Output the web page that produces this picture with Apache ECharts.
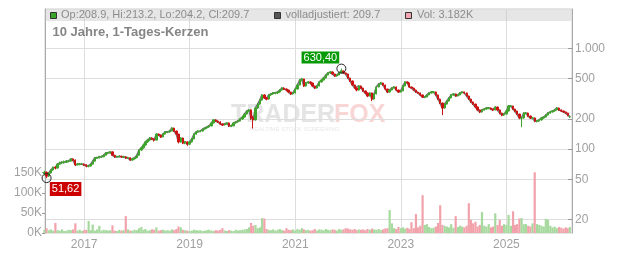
<!DOCTYPE html>
<html><head><meta charset="utf-8">
<script src="https://cdn.jsdelivr.net/npm/echarts@6/dist/echarts.min.js"></script>
<style>html,body{margin:0;padding:0;background:#fff}#c{width:632px;height:253px}</style>
</head><body><div id="c"></div>
<script>
const dates = [
'2016-04-01','2016-04-16','2016-05-01','2016-05-16','2016-06-01','2016-06-16','2016-07-01','2016-07-16','2016-08-01','2016-08-16','2016-09-01','2016-09-16','2016-10-01','2016-10-16','2016-11-01','2016-11-16','2016-12-01','2016-12-16',
'2017-01-01','2017-01-16','2017-02-01','2017-02-16','2017-03-01','2017-03-16','2017-04-01','2017-04-16','2017-05-01','2017-05-16','2017-06-01','2017-06-16','2017-07-01','2017-07-16','2017-08-01','2017-08-16','2017-09-01','2017-09-16','2017-10-01','2017-10-16','2017-11-01','2017-11-16','2017-12-01','2017-12-16',
'2018-01-01','2018-01-16','2018-02-01','2018-02-16','2018-03-01','2018-03-16','2018-04-01','2018-04-16','2018-05-01','2018-05-16','2018-06-01','2018-06-16','2018-07-01','2018-07-16','2018-08-01','2018-08-16','2018-09-01','2018-09-16','2018-10-01','2018-10-16','2018-11-01','2018-11-16','2018-12-01','2018-12-16',
'2019-01-01','2019-01-16','2019-02-01','2019-02-16','2019-03-01','2019-03-16','2019-04-01','2019-04-16','2019-05-01','2019-05-16','2019-06-01','2019-06-16','2019-07-01','2019-07-16','2019-08-01','2019-08-16','2019-09-01','2019-09-16','2019-10-01','2019-10-16','2019-11-01','2019-11-16','2019-12-01','2019-12-16',
'2020-01-01','2020-01-16','2020-02-01','2020-02-16','2020-03-01','2020-03-16','2020-04-01','2020-04-16','2020-05-01','2020-05-16','2020-06-01','2020-06-16','2020-07-01','2020-07-16','2020-08-01','2020-08-16','2020-09-01','2020-09-16','2020-10-01','2020-10-16','2020-11-01','2020-11-16','2020-12-01','2020-12-16',
'2021-01-01','2021-01-16','2021-02-01','2021-02-16','2021-03-01','2021-03-16','2021-04-01','2021-04-16','2021-05-01','2021-05-16','2021-06-01','2021-06-16','2021-07-01','2021-07-16','2021-08-01','2021-08-16','2021-09-01','2021-09-16','2021-10-01','2021-10-16','2021-11-01','2021-11-16','2021-12-01','2021-12-16',
'2022-01-01','2022-01-16','2022-02-01','2022-02-16','2022-03-01','2022-03-16','2022-04-01','2022-04-16','2022-05-01','2022-05-16','2022-06-01','2022-06-16','2022-07-01','2022-07-16','2022-08-01','2022-08-16','2022-09-01','2022-09-16','2022-10-01','2022-10-16','2022-11-01','2022-11-16','2022-12-01','2022-12-16',
'2023-01-01','2023-01-16','2023-02-01','2023-02-16','2023-03-01','2023-03-16','2023-04-01','2023-04-16','2023-05-01','2023-05-16','2023-06-01','2023-06-16','2023-07-01','2023-07-16','2023-08-01','2023-08-16','2023-09-01','2023-09-16','2023-10-01','2023-10-16','2023-11-01','2023-11-16','2023-12-01','2023-12-16',
'2024-01-01','2024-01-16','2024-02-01','2024-02-16','2024-03-01','2024-03-16','2024-04-01','2024-04-16','2024-05-01','2024-05-16','2024-06-01','2024-06-16','2024-07-01','2024-07-16','2024-08-01','2024-08-16','2024-09-01','2024-09-16','2024-10-01','2024-10-16','2024-11-01','2024-11-16','2024-12-01','2024-12-16',
'2025-01-01','2025-01-16','2025-02-01','2025-02-16','2025-03-01','2025-03-16','2025-04-01','2025-04-16','2025-05-01','2025-05-16','2025-06-01','2025-06-16','2025-07-01','2025-07-16','2025-08-01','2025-08-16','2025-09-01','2025-09-16','2025-10-01','2025-10-16','2025-11-01','2025-11-16','2025-12-01','2025-12-16',
'2026-01-01','2026-01-16','2026-02-01','2026-02-16','2026-03-01','2026-03-16'
];
const opens = [
57,59,54,58,62,66,65,71,73,74, 74,76,76,80,78,70,71,71,71,70,
68,68,71,76,82,82,84,84,87,92, 92,94,87,84,84,85,84,84,82,82,
78,80,82,87,98,103,110,118,123,129, 126,123,141,138,132,141,148,148,151,162,
151,141,118,129,115,118,112,118,126,141, 148,151,151,158,162,166,170,182,195,190,
186,178,174,178,182,170,170,182,186,190, 199,208,223,239,245,204,195,256,280,307,
345,322,314,345,353,361,361,369,386,404, 395,386,369,353,361,395,433,485,497,423,
453,464,453,423,404,423,464,485,508,544, 570,583,557,532,544,570,596,570,557,508,
475,433,404,386,423,404,378,361,337,361, 314,353,414,443,453,433,395,369,386,404,
414,386,369,378,423,464,453,414,404,386, 369,361,345,329,329,345,361,369,369,345,
314,287,256,280,300,322,345,353,337,345, 361,369,361,337,314,294,280,262,245,234,
245,250,256,256,250,245,262,245,228,218, 223,239,268,268,250,239,223,204,204,228,
228,213,204,204,190,190,195,204,208,218, 228,234,239,245,256,245,239,234,228,208.9
];
const closes = [
59,54,58,62,66,65,71,73,74,74, 76,76,80,78,70,71,71,71,70,68,
68,71,76,82,82,84,84,87,92,92, 94,87,84,84,85,84,84,82,82,78,
80,82,87,98,103,110,118,123,129,126, 123,141,138,132,141,148,148,151,162,151,
141,118,129,115,118,112,118,126,141,148, 151,151,158,162,166,170,182,195,190,186,
178,174,178,182,170,170,182,186,190,199, 208,223,239,245,204,195,256,280,307,345,
322,314,345,353,361,361,369,386,404,395, 386,369,353,361,395,433,485,497,423,453,
464,453,423,404,423,464,485,508,544,570, 583,557,532,544,570,596,570,557,508,475,
433,404,386,423,404,378,361,337,361,314, 353,414,443,453,433,395,369,386,404,414,
386,369,378,423,464,453,414,404,386,369, 361,345,329,329,345,361,369,369,345,314,
287,256,280,300,322,345,353,337,345,361, 369,361,337,314,294,280,262,245,234,245,
250,256,256,250,245,262,245,228,218,223, 239,268,268,250,239,223,204,204,228,228,
213,204,204,190,190,195,204,208,218,228, 234,239,245,256,245,239,234,228,218,209.7
];
const lows = [
55,51.62,53,57,61,63,64,70,71,72, 73,74,75,76,68,69,69,70,68,66,
66,67,70,75,80,81,82,83,86,89, 90,86,82,82,83,82,82,80,80,77,
77,79,81,86,96,101,108,115,120,123, 119,122,135,129,131,139,144,146,150,148,
138,114,116,112,112,108,110,116,125,139, 146,147,149,155,159,163,168,180,186,182,
174,170,172,176,166,166,169,179,183,188, 196,205,220,234,195,160,192,250,275,302,
316,305,310,338,346,350,352,362,380,386, 375,360,345,348,356,390,428,475,415,418,
445,440,415,396,400,420,458,480,502,538, 560,548,520,525,540,565,560,545,500,465,
425,395,375,380,395,370,352,328,333,300, 310,350,410,438,425,388,360,365,382,400,
380,362,365,375,420,445,408,398,380,362, 355,338,322,320,326,342,356,360,340,308,
280,218,252,276,296,318,340,332,333,342, 356,355,332,308,288,274,256,238,228,230,
241,246,249,245,239,242,240,222,212,214, 220,236,260,245,233,218,198,165,200,222,
208,199,198,185,184,186,192,200,205,215, 225,230,235,242,240,234,229,223,212,204.2
];
const highs = [
61,60,59,63,67,68,72,75,76,77, 78,78,81,81,79,73,73,73,72,71,
70,72,77,83,84,86,86,89,93,94, 96,95,88,86,87,86,86,85,84,83,
81,83,88,99,105,112,120,126,132,131, 128,143,143,140,143,150,151,154,165,163,
153,142,131,130,121,120,120,128,143,150, 154,155,160,165,169,173,185,198,198,193,
189,180,181,185,184,174,184,189,193,202, 212,227,243,250,248,215,260,285,312,350,
350,330,350,360,368,370,378,394,412,410, 400,390,372,368,400,440,495,510,500,460,
472,470,458,428,430,470,492,516,552,580, 595,590,562,552,580,630.4,602,576,562,512,
480,438,410,430,428,408,382,365,366,364, 358,420,450,462,458,436,398,392,410,420,
418,390,384,428,470,470,456,418,408,390, 372,364,348,336,350,366,374,376,372,348,
318,290,285,305,326,350,358,356,350,366, 374,372,364,340,317,297,283,265,248,249,
255,260,262,259,253,266,264,248,230,226, 243,272,274,270,252,241,225,208,232,233,
231,216,208,206,194,198,207,212,222,232, 238,243,249,260,258,248,241,236,230,213.2
];
const volumesK = [
8,12,7,9,6,25,7,6,9,5, 6,8,7,9,24,6,8,5,7,8,
30,7,21,6,9,18,6,8,7,6, 7,19,6,5,8,6,7,42,9,6,
6,8,7,12,15,8,10,6,7,9, 8,14,6,7,8,6,7,6,9,7,
10,16,14,8,7,6,5,6,8,7, 6,7,5,6,7,8,6,5,7,6,
8,12,6,5,7,6,5,8,6,7, 8,9,10,14,25,18,20,12,14,37,
36,10,8,7,9,6,8,10,7,6, 12,8,7,9,6,10,8,12,9,7,
8,6,7,10,6,9,8,7,10,8, 7,9,8,6,10,8,9,12,11,9,
8,10,7,9,8,9,7,10,8,11, 9,8,10,7,9,11,12,57,24,12,
10,15,12,14,11,13,10,27,12,47, 14,18,94,20,22,15,12,13,16,25,
69,20,18,16,14,22,13,42,15,18, 16,14,18,74,33,24,28,16,20,52,
18,16,22,14,16,49,20,33,18,22, 20,45,18,54,20,22,36,37,22,22,
18,16,24,151,22,20,18,16,35,33, 18,14,16,12,15,13,11,14,12,15
];
const priceTicks = [20, 50, 100, 200, 500, 1000];
const priceTickLabels = ['20', '50', '100', '200', '500', '1.000'];
const volumeTicks = [0, 50000, 100000, 150000];
const volumeTickLabels = ['0K', '50K', '100K', '150K'];
const yearTicks = ['2017-01-01', '2019-01-01', '2021-01-01', '2023-01-01', '2025-01-01'];
const yearLabels = ['2017', '2019', '2021', '2023', '2025'];
const xRange = ['2016-04-05', '2026-03-31'];
const maxMark = { date: '2021-11-16', value: 630.40, text: '630,40' };
const minMark = { date: '2016-04-16', value: 51.62, text: '51,62' };
const headerOHLC = 'Op:208.9, Hi:213.2, Lo:204.2, Cl:209.7';
const headerAdj = 'volladjustiert: 209.7';
const headerVol = 'Vol: 3.182K';
const titleText = '10 Jahre, 1-Tages-Kerzen';

const ts = d => Date.parse(d + 'T00:00:00Z');
const yearTickTs = yearTicks.map(ts);
const candleData = dates.map((d, i) => [ts(d), opens[i], closes[i], lows[i], highs[i]]);
const adjData = dates.map((d, i) => [ts(d), closes[i]]);
const volData = dates.map((d, i) => ({
  value: [ts(d), volumesK[i] * 1000],
  itemStyle: { color: closes[i] >= opens[i] ? '#a6d99d' : '#f2a2ab' }
}));

const FONT = '"Liberation Sans", Arial, sans-serif';
const chart = echarts.init(document.getElementById('c'), null, { renderer: 'canvas' });
chart.setOption({
  animation: false,
  backgroundColor: '#fff',
  textStyle: { fontFamily: FONT },
  grid: { left: 45, right: 60, top: 9, bottom: 20, show: true, borderColor: '#cccccc', borderWidth: 1, backgroundColor: 'transparent' },
  xAxis: {
    type: 'value', min: ts(xRange[0]), max: ts(xRange[1]),
    axisLine: { show: false },
    axisTick: { show: false, customValues: yearTickTs },
    axisLabel: {
      customValues: yearTickTs, color: '#a0a0a0', fontSize: 12, margin: 6, fontFamily: FONT,
      formatter: v => { const i = yearTickTs.indexOf(v); return i >= 0 ? yearLabels[i] : ''; }
    },
    splitLine: { show: true, lineStyle: { color: '#dddddd', width: 1 } }
  },
  yAxis: [
    {
      type: 'log', logBase: 10, position: 'right', min: 14.72, max: 2460,
      axisLine: { show: true, lineStyle: { color: '#aaaaaa' } },
      axisTick: { show: true, inside: true, length: 4, customValues: priceTicks, lineStyle: { color: '#999' } },
      axisLabel: {
        customValues: priceTicks, color: '#a0a0a0', fontSize: 12, margin: 3, fontFamily: FONT,
        formatter: v => { const i = priceTicks.findIndex(t => Math.abs(t - v) / t < 1e-6); return i >= 0 ? priceTickLabels[i] : ''; }
      },
      splitLine: { show: true, lineStyle: { color: '#dddddd', width: 1 } }
    },
    {
      type: 'value', position: 'left', min: 0, max: 557000,
      axisLine: { show: true, lineStyle: { color: '#aaaaaa' } },
      axisTick: { show: true, length: 3, customValues: volumeTicks, lineStyle: { color: '#999' } },
      axisLabel: {
        customValues: volumeTicks, color: '#a0a0a0', fontSize: 12, margin: 3, fontFamily: FONT,
        formatter: v => { const i = volumeTicks.indexOf(Math.round(v)); return i >= 0 ? volumeTickLabels[i] : ''; }
      },
      splitLine: { show: false }
    }
  ],
  graphic: [
    { type: 'text', z: -5, left: 231, top: 103, style: { text: 'TRADER', font: 'bold 25px ' + FONT, fill: '#e4e4e4' } },
    { type: 'text', z: -5, left: 334, top: 103, style: { text: 'FOX', font: 'bold 25px ' + FONT, fill: '#f9d6d6' } },
    { type: 'text', z: -5, left: 250, top: 126, style: { text: 'REALTIME STOCK SCREENING', font: '6px ' + FONT, fill: '#e8e8e8' } },
    { type: 'rect', z: 10, shape: { x: 45.5, y: 9.5, width: 526, height: 11.5 }, style: { fill: 'rgba(200,200,200,0.45)' } },
    { type: 'rect', z: 11, shape: { x: 50.5, y: 12.5, width: 6, height: 6 }, style: { fill: '#3aa52a', stroke: '#333', lineWidth: 1 } },
    { type: 'text', z: 11, left: 61, top: 9.5, style: { text: headerOHLC, font: '11px ' + FONT, fill: '#8c8c8c' } },
    { type: 'rect', z: 11, shape: { x: 274.5, y: 12.5, width: 6, height: 6 }, style: { fill: '#555', stroke: '#333', lineWidth: 1 } },
    { type: 'text', z: 11, left: 285.5, top: 9.5, style: { text: headerAdj, font: '11px ' + FONT, fill: '#8c8c8c' } },
    { type: 'rect', z: 11, shape: { x: 405.5, y: 12.5, width: 6, height: 6 }, style: { fill: '#f4a6b0', stroke: '#333', lineWidth: 1 } },
    { type: 'text', z: 11, left: 417, top: 9.5, style: { text: headerVol, font: '11px ' + FONT, fill: '#8c8c8c' } },
    { type: 'text', z: 11, left: 52.5, top: 25.5, style: { text: titleText, font: 'bold 13px ' + FONT, fill: '#858585' } }
  ],
  series: [
    {
      name: 'Vol', type: 'bar', yAxisIndex: 1, barWidth: 2.2, z: 1,
      data: volData
    },
    {
      name: 'volladjustiert', type: 'line', yAxisIndex: 0, z: 2, symbol: 'none',
      lineStyle: { color: '#777777', width: 1.8 }, data: adjData
    },
    {
      name: 'Kerzen', type: 'candlestick', yAxisIndex: 0, z: 3, barWidth: 1.8,
      dimensions: ['date', 'open', 'close', 'lowest', 'highest'],
      encode: { x: 0, y: [1, 2, 3, 4] },
      itemStyle: { color: '#3ea52c', color0: '#cc1414', borderColor: '#3ea52c', borderColor0: '#cc1414', borderWidth: 1 },
      data: candleData,
      markPoint: {
        symbol: 'circle', symbolSize: 9,
        itemStyle: { color: 'rgba(0,0,0,0)', borderColor: '#222', borderWidth: 1 },
        label: { show: true, position: 'inside', color: '#fff', fontSize: 11, lineHeight: 12, fontFamily: FONT, formatter: '{b}' },
        data: [
          { name: maxMark.text, coord: [ts(maxMark.date), maxMark.value], label: { offset: [-21, -11], backgroundColor: '#079a07', padding: [0, 2] } },
          { name: minMark.text, coord: [ts(minMark.date), minMark.value], label: { offset: [19, 11], backgroundColor: '#cc0000', padding: [1, 2] } }
        ]
      }
    }
  ]
});
</script>
</body></html>
